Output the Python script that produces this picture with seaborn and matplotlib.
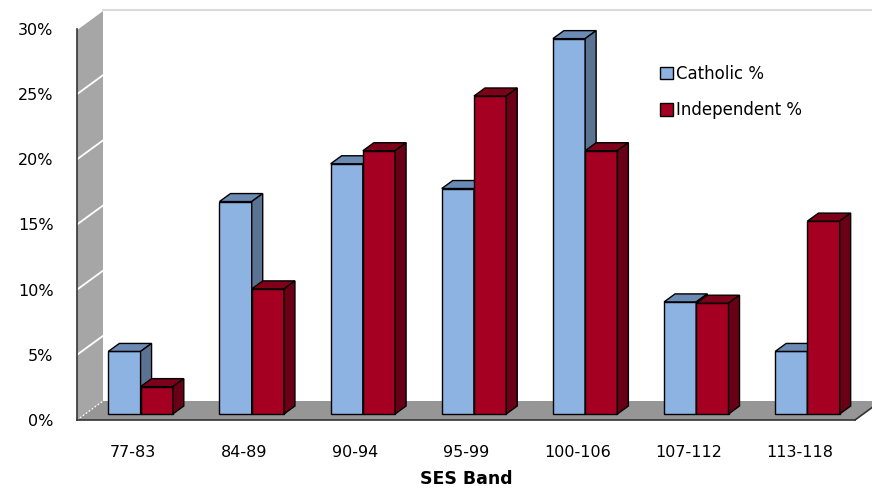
import pandas as pd
import matplotlib.pyplot as plt
import seaborn as sns
from matplotlib.patches import Polygon, Patch
from matplotlib.transforms import ScaledTranslation, IdentityTransform
from matplotlib.lines import Line2D

# SES bands and share of students (%) in each sector
bands = ['77-83', '84-89', '90-94', '95-99', '100-106', '107-112', '113-118']
catholic = [4.8, 16.3, 19.2, 17.3, 28.8, 8.6, 4.8]
independent = [2.1, 9.6, 20.2, 24.4, 20.2, 8.5, 14.8]
series = ['Catholic %', 'Independent %']

df = pd.DataFrame({
    'band': bands * 2,
    'pct': catholic + independent,
    'school': [series[0]] * len(bands) + [series[1]] * len(bands),
})

face = ['#8DB3E2', '#A50021']
side = ['#5A7393', '#6A0015']
top = ['#6B8BB5', '#7E0019']

sns.set_style('white')
plt.rcParams['font.family'] = ['DejaVu Sans']
plt.rcParams['text.color'] = 'black'
plt.rcParams['xtick.color'] = 'black'
plt.rcParams['ytick.color'] = 'black'
plt.rcParams['axes.labelcolor'] = 'black'

fig = plt.figure(figsize=(8.72, 4.88), dpi=100)
ax = fig.add_axes([77 / 872, 68 / 488, 778 / 872, 391 / 488])

sns.barplot(data=df, x='band', y='pct', hue='school', palette=face,
            width=0.58, edgecolor='black', linewidth=1, saturation=1,
            legend=False, ax=ax)

ax.set_xlim(-0.5, len(bands) - 0.5)
ax.set_ylim(0, 30)
fig.canvas.draw()

# depth of the fake 3D box (pixels) and bar offset inside it
dx, dy = 26, 19
bx, by = 8, 6
shift = ScaledTranslation(bx / 100, by / 100, fig.dpi_scale_trans)


def px(x, y, ox=0, oy=0):
    X, Y = ax.transData.transform((x, y))
    return (X + ox, Y + oy)


# wall and floor
x0, x1 = -0.5, len(bands) - 0.5
wall = [px(x0, 0), px(x0, 30), px(x0, 30, dx, dy), px(x0, 0, dx, dy)]
ax.add_patch(Polygon(wall, closed=True, facecolor='#A6A6A6', edgecolor='none',
                     transform=IdentityTransform(), zorder=0.5, clip_on=False))
floor = [px(x0, 0), px(x1, 0), px(x1, 0, dx, dy), px(x0, 0, dx, dy)]
ax.add_patch(Polygon(floor, closed=True, facecolor='#969696', edgecolor='none',
                     transform=IdentityTransform(), zorder=0.5, clip_on=False))
for v in range(5, 31, 5):
    a, b = px(x0, v), px(x0, v, dx, dy)
    ax.add_line(Line2D([a[0], b[0]], [a[1], b[1]], color='white', lw=1.3,
                       transform=IdentityTransform(), zorder=0.6, clip_on=False))
a, b = px(x0, 0), px(x0, 0, dx, dy)
ax.add_line(Line2D([a[0], b[0]], [a[1], b[1]], color='white', lw=1, ls=':',
                   transform=IdentityTransform(), zorder=0.6, clip_on=False))
a = px(x0, 30, dx, dy)
ax.add_line(Line2D([a[0], fig.bbox.width], [a[1], a[1]], color='#D9D9D9', lw=1.5,
                   transform=IdentityTransform(), zorder=0.6, clip_on=False))
a, b = px(x1, 0), px(x1, 0, dx, dy)
ax.add_line(Line2D([a[0], b[0]], [a[1], b[1]], color='#333333', lw=1.2,
                   transform=IdentityTransform(), zorder=0.7, clip_on=False))

# 3D faces for the bars
for k, cont in enumerate(ax.containers):
    z = 3 + k
    for bar in cont:
        bar.set_transform(ax.transData + shift)
        bar.set_zorder(z)
        xa, ya = bar.get_x(), bar.get_y()
        xb, yb = xa + bar.get_width(), ya + bar.get_height()
        p10 = px(xb, ya, bx, by)
        p01 = px(xa, yb, bx, by)
        p11 = px(xb, yb, bx, by)
        dd = (11, 8)
        tp = [p01, p11, (p11[0] + dd[0], p11[1] + dd[1]), (p01[0] + dd[0], p01[1] + dd[1])]
        sp = [p10, (p10[0] + dd[0], p10[1] + dd[1]), (p11[0] + dd[0], p11[1] + dd[1]), p11]
        for poly, col in [(tp, top[k]), (sp, side[k])]:
            ax.add_patch(Polygon(poly, closed=True, facecolor=col, edgecolor='black',
                                 lw=1, transform=IdentityTransform(), zorder=z,
                                 clip_on=False))

# axes styling
for s in ['top', 'right']:
    ax.spines[s].set_visible(False)
for s in ['left', 'bottom']:
    ax.spines[s].set_color('#333333')
    ax.spines[s].set_linewidth(1.2)
ax.set_yticks(range(0, 31, 5))
ax.set_yticklabels([f'{v}%' for v in range(0, 31, 5)])
ax.tick_params(axis='y', length=5, width=1.2, color='#333333', pad=12, labelsize=11.5)
ax.set_xticks(range(len(bands)))
ax.set_xticklabels(bands)
ax.tick_params(axis='x', which='major', length=0, pad=18, labelsize=11.5)
ax.set_xticks([i - 0.5 for i in range(len(bands) + 1)], minor=True)
ax.tick_params(axis='x', which='minor', length=6, width=1.2, color='#333333', direction='out')
ax.set_ylabel('')
ax.set_xlabel('SES Band', fontsize=12.5, fontweight='bold', labelpad=7)

handles = [Patch(facecolor=face[i], edgecolor='black', lw=1) for i in range(2)]
ax.legend(handles, series, frameon=False, fontsize=12, loc='upper left',
          bbox_to_anchor=(645 / 872, 1 - 50 / 488), bbox_transform=fig.transFigure,
          handlelength=0.75, handleheight=0.75, handletextpad=0.2, labelspacing=1.1)

fig.savefig('out.png', dpi=100)
